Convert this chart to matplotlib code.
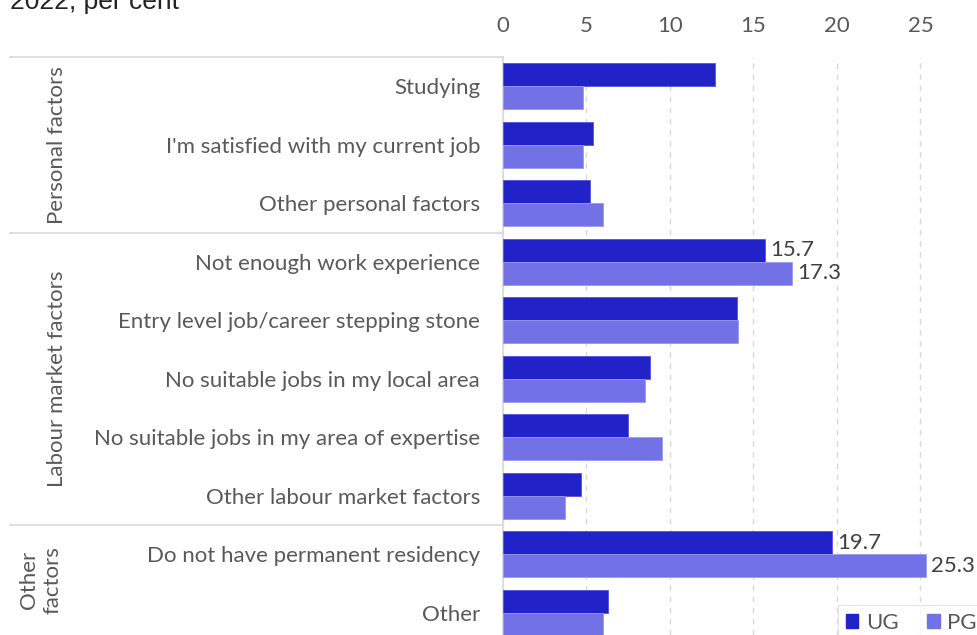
import matplotlib
matplotlib.use("Agg")
import matplotlib.pyplot as plt
import numpy as np
from matplotlib.patches import Patch
from matplotlib.transforms import blended_transform_factory

categories = [
    "Studying",
    "I'm satisfied with my current job",
    "Other personal factors",
    "Not enough work experience",
    "Entry level job/career stepping stone",
    "No suitable jobs in my local area",
    "No suitable jobs in my area of expertise",
    "Other labour market factors",
    "Do not have permanent residency",
    "Other",
]
ug = [12.7, 5.4, 5.2, 15.7, 14.0, 8.8, 7.5, 4.7, 19.7, 6.3]
pg = [4.8, 4.8, 6.0, 17.3, 14.1, 8.5, 9.5, 3.7, 25.3, 6.0]
labelled = [3, 8]
groups = ["Personal factors", "Labour market factors", "Other\nfactors"]
group_spans = [(0, 2), (3, 7), (8, 9)]
xticks = [0, 5, 10, 15, 20, 25]

FONT = "Lato"
FS = 16
TXT = "#595959"
UG_C = "#2222C9"
PG_C = "#7272E6"

W, H = 978, 635
fig = plt.figure(figsize=(W / 100, H / 100), dpi=100)
x0, x1 = 503, 978
ytop = 57
ax = fig.add_axes([x0 / W, 0, (x1 - x0) / W, 1 - ytop / H])

step = 58.5
ybot_val = -0.5 + (H - ytop) / step
y = np.arange(len(categories))
bh = 0.39
ax.barh(y - bh / 2, ug, height=bh, color=UG_C, edgecolor="#5555dd", linewidth=0.6, zorder=3)
ax.barh(y + bh / 2, pg, height=bh, color=PG_C, edgecolor="#9a9af0", linewidth=0.6, zorder=3)

for i in labelled:
    ax.text(ug[i] + 0.3, i - bh / 2, f"{ug[i]:.1f}", va="center", ha="left",
            fontsize=FS, color="#404040", family=FONT, zorder=4)
    ax.text(pg[i] + 0.3, i + bh / 2, f"{pg[i]:.1f}", va="center", ha="left",
            fontsize=FS, color="#404040", family=FONT, zorder=4)

ax.set_xlim(0, (x1 - x0) / 16.7)
ax.set_ylim(ybot_val, -0.5)
ax.xaxis.tick_top()
ax.set_xticks(xticks)
ax.set_xticklabels([str(t) for t in xticks], fontsize=FS, color=TXT, family=FONT)
ax.tick_params(axis="x", length=0, pad=15)
ax.set_yticks(y)
ax.set_yticklabels(categories, fontsize=FS, color=TXT, family=FONT)
ax.tick_params(axis="y", length=0, pad=16.5)
for s in ["top", "right", "bottom"]:
    ax.spines[s].set_visible(False)
ax.spines["left"].set_color("#d9d9d9")
ax.spines["left"].set_linewidth(1.2)
ax.grid(axis="x", color="#d9d9d9", linestyle=(0, (4, 4)), linewidth=1, zorder=0)
ax.set_axisbelow(True)

# separator lines in the label area
tr = blended_transform_factory(fig.transFigure, ax.transData)
for b in [-0.5, 2.5, 7.5]:
    ax.plot([10 / W, x0 / W], [b, b], transform=tr, color="#d9d9d9", lw=1.2, clip_on=False)

# group labels
for (g, (a, b)) in zip(groups, group_spans):
    yc = (a + b) / 2
    if "\n" in g:
        ax.text(41 / W, 8.44, g, transform=tr, rotation=90, ha="center", va="center",
                fontsize=FS, color=TXT, family=FONT, linespacing=1.2, multialignment="center")
    else:
        ax.text(57 / W, yc, g, transform=tr, rotation=90, ha="center", va="center",
                fontsize=FS, color=TXT, family=FONT)

fig.text(10 / W, 1 - 9 / H, "2022, per cent", ha="left", va="baseline",
         fontsize=19, color="#222222", family="Liberation Sans")

handles = [Patch(facecolor=UG_C, edgecolor=UG_C), Patch(facecolor=PG_C, edgecolor=PG_C)]
leg = fig.legend(handles, ["UG", "PG"], ncol=2, loc="upper left",
                 bbox_to_anchor=(838 / W, 1 - 605 / H), frameon=True, fancybox=False,
                 prop={"family": FONT, "size": FS}, handlelength=0.55, handleheight=0.55,
                 columnspacing=1.3, handletextpad=0.35, borderpad=0.35, borderaxespad=0)
leg.get_frame().set_edgecolor("#e0e0e0")
leg.get_frame().set_linewidth(1)
for t in leg.get_texts():
    t.set_color(TXT)

fig.savefig("out.png", dpi=100)
